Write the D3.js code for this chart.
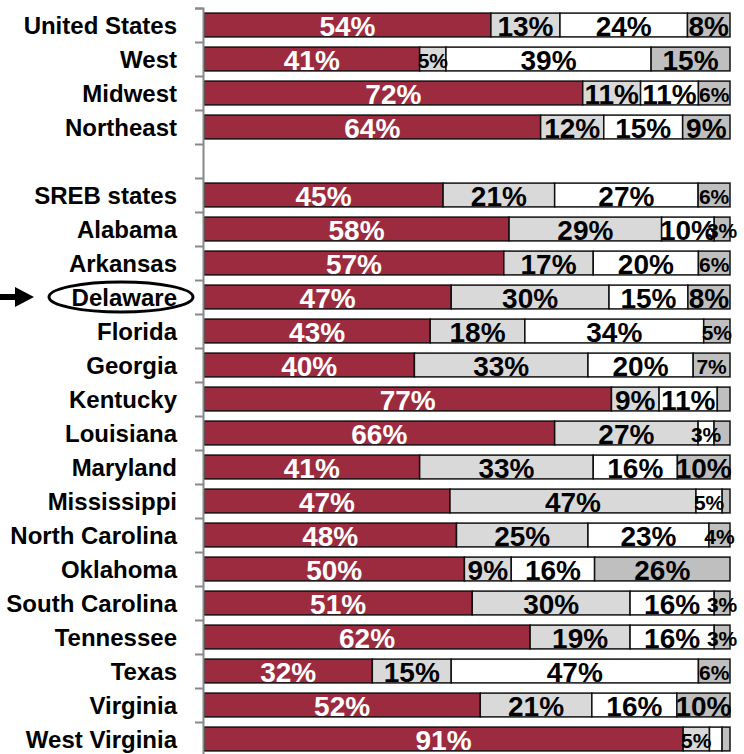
<!DOCTYPE html>
<html>
<head>
<meta charset="utf-8">
<script src="https://cdn.jsdelivr.net/npm/d3@7"></script>
<style>
body { margin: 0; background: #fff; }
svg text { font-family: "Liberation Sans", Arial, sans-serif; font-weight: bold; }
</style>
</head>
<body>
<svg width="744" height="754"></svg>
<script>
var categories = ["United States", "West", "Midwest", "Northeast", "", "SREB states", "Alabama", "Arkansas", "Delaware", "Florida", "Georgia", "Kentucky", "Louisiana", "Maryland", "Mississippi", "North Carolina", "Oklahoma", "South Carolina", "Tennessee", "Texas", "Virginia", "West Virginia"];
var s1 = [54, 41, 72, 64, null, 45, 58, 57, 47, 43, 40, 77, 66, 41, 47, 48, 50, 51, 62, 32, 52, 91];
var s2 = [13, 5, 11, 12, null, 21, 29, 17, 30, 18, 33, 9, 27, 33, 47, 25, 9, 30, 19, 15, 21, 5];
var s3 = [24, 39, 11, 15, null, 27, 10, 20, 15, 34, 20, 11, 3, 16, 5, 23, 16, 16, 16, 47, 16, 2.4];
var s4 = [8, 15, 6, 9, null, 6, 3, 6, 8, 5, 7, 2.4, 3, 10, 1.5, 4, 26, 3, 3, 6, 10, 1.5];
// segments that carry no label in the original
var unlabeled = ["Kentucky|s4", "Louisiana|s4", "Mississippi|s4", "West Virginia|s3", "West Virginia|s4"];
var highlight = "Delaware";

var keys = ["s1", "s2", "s3", "s4"];
var colors = {s1: "#9c2b40", s2: "#d9d9d9", s3: "#ffffff", s4: "#bfbfbf"};

var rows = [];
for (var i = 0; i < categories.length; i++) {
    if (s1[i] == null) continue;
    rows.push({name: categories[i], s1: s1[i], s2: s2[i], s3: s3[i], s4: s4[i]});
}

var svg = d3.select("svg");

var y = d3.scaleBand().domain(categories).range([8, 756]).paddingInner(0.3).paddingOuter(0.15);
var x = d3.scaleLinear().domain([0, 1]).range([204, 730]);

var series = d3.stack().keys(keys).offset(d3.stackOffsetExpand)(rows);

// bars
var groups = svg.selectAll("g.series").data(series).enter().append("g")
    .attr("class", "series")
    .attr("fill", function(d){ return colors[d.key]; });

groups.selectAll("rect").data(function(d){ return d; }).enter().append("rect")
    .attr("x", function(d){ return x(d[0]); })
    .attr("y", function(d){ return y(d.data.name); })
    .attr("width", function(d){ return x(d[1]) - x(d[0]); })
    .attr("height", y.bandwidth())
    .attr("stroke", "#111")
    .attr("stroke-width", 1.5);

// value labels
series.forEach(function(s){
    svg.append("g").selectAll("text")
        .data(s.filter(function(d){ return unlabeled.indexOf(d.data.name + "|" + s.key) < 0; }))
        .enter().append("text")
        .attr("x", function(d){ return x((d[0] + d[1]) / 2); })
        .attr("y", function(d){ return y(d.data.name) + y.bandwidth() / 2 + 1; })
        .attr("dy", "0.36em")
        .attr("text-anchor", "middle")
        .attr("fill", s.key == "s1" ? "#fff" : "#000")
        .style("font-size", function(d){ return d.data[s.key] >= 8 ? "28px" : "21px"; })
        .text(function(d){ return d.data[s.key] + "%"; });
});

// axis with ticks between categories
var yb = d3.scaleLinear().domain([0, categories.length]).range([8, 756]);
var axis = svg.append("g").attr("transform", "translate(203,0)")
    .call(d3.axisLeft(yb).tickValues(d3.range(0, categories.length + 1)).tickSize(8).tickFormat(""));
axis.select(".domain").attr("stroke", "#888").attr("stroke-width", 2);
axis.selectAll(".tick line").attr("stroke", "#888").attr("stroke-width", 2);

// category labels
svg.append("g").selectAll("text").data(categories.filter(function(c){ return c != ""; }))
    .enter().append("text")
    .attr("x", 177)
    .attr("y", function(d){ return y(d) + y.bandwidth() / 2; })
    .attr("dy", "0.36em")
    .attr("text-anchor", "end")
    .style("font-size", "24px")
    .text(function(d){ return d; });

// highlight ellipse and arrow
var hy = y(highlight) + y.bandwidth() / 2;
svg.append("ellipse")
    .attr("cx", 121).attr("cy", hy)
    .attr("rx", 72).attr("ry", 15)
    .attr("fill", "none").attr("stroke", "#000").attr("stroke-width", 3);
svg.append("path")
    .attr("d", "M0," + (hy - 3) + "H15V" + (hy - 10) + "L34," + hy + "L15," + (hy + 10) + "V" + (hy + 3) + "H0Z")
    .attr("fill", "#000");
</script>
</body>
</html>
